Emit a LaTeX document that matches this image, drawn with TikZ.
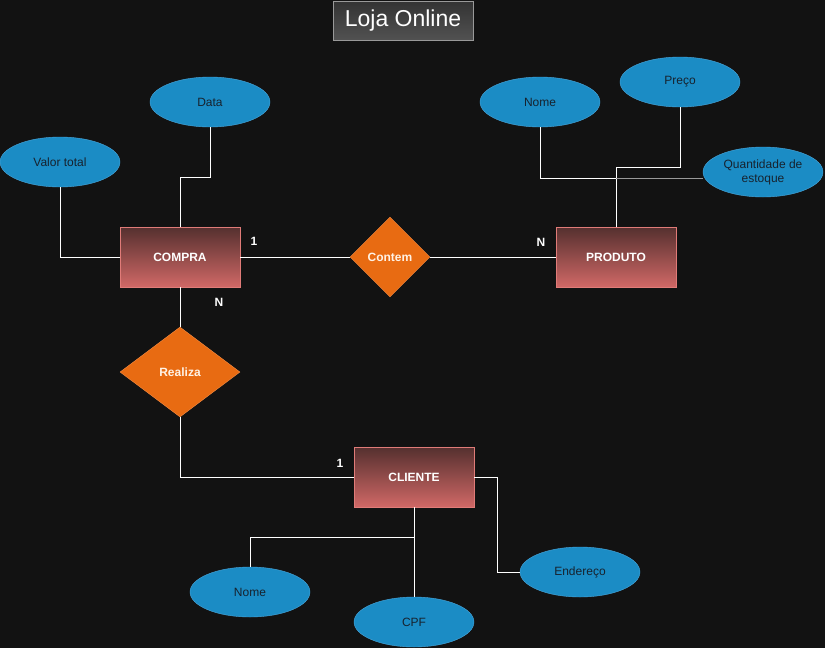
\documentclass[tikz,border=0pt]{standalone}
\usepackage{fontspec}
\setmainfont{Liberation Sans}
\usetikzlibrary{shapes.geometric}
\definecolor{bg}{HTML}{121212}
\definecolor{attrfill}{HTML}{1B8CC5}
\definecolor{attrline}{HTML}{4AA8DE}
\definecolor{attrtext}{HTML}{17222E}
\definecolor{enttop}{HTML}{55302F}
\definecolor{entbot}{HTML}{D06866}
\definecolor{entline}{HTML}{E07B78}
\definecolor{relfill}{HTML}{E86B12}
\definecolor{relline}{HTML}{F38B42}
\tikzset{
  attr/.style={ellipse,draw=attrline,fill=attrfill,text=attrtext,minimum width=120pt,minimum height=50pt,inner sep=0pt,font=\fontsize{12}{14}\selectfont,align=center},
  ent/.style={rectangle,draw=entline,top color=enttop,bottom color=entbot,text=white,minimum width=120pt,minimum height=60pt,inner sep=0pt,font=\fontsize{12}{14}\selectfont\bfseries},
  rel/.style={diamond,draw=relline,fill=relfill,text=white!90!orange,inner sep=0pt,font=\fontsize{12}{14}\selectfont\bfseries},
  card/.style={text=white,font=\fontsize{12}{14}\selectfont\bfseries},
  link/.style={draw=white,line width=1pt}
}
\begin{document}
\begin{tikzpicture}[x=1pt,y=-1pt]
  \fill[bg] (0,0) rectangle (825,648);
  \useasboundingbox (0,0) rectangle (825,648);
  \node[draw=gray!80,top color=black!80,bottom color=black!68,text=white,minimum width=140pt,minimum height=39pt,inner sep=0pt,font=\fontsize{23}{26}\selectfont] (titulo) at (403,20.5) {Loja Online};
  \node[ent] (compra) at (180,257) {COMPRA};
  \node[ent] (produto) at (616,257) {PRODUTO};
  \node[ent] (cliente) at (414,477) {CLIENTE};
  \node[rel,minimum width=80pt,minimum height=80pt] (contem) at (390,257) {Contem};
  \node[rel,minimum width=120pt,minimum height=90pt] (realiza) at (180,372) {Realiza};
  \node[attr] (valor) at (60,162) {Valor total};
  \node[attr] (data) at (210,102) {Data};
  \node[attr] (nomep) at (540,102) {Nome};
  \node[attr] (preco) at (680,82) {Preço};
  \node[attr] (qtd) at (763,172) {Quantidade de\\estoque};
  \node[attr] (nomec) at (250,592) {Nome};
  \node[attr] (cpf) at (414,622) {CPF};
  \node[attr] (endereco) at (580,572) {Endereço};
  \draw[link] (valor.south) |- (compra.west);
  \draw[link] (data.south) -- ++(0,50) -| (compra.north);
  \draw[link] (compra.east) -- (contem.west);
  \draw[link] (contem.east) -- (produto.west);
  \draw[link] (compra.south) -- (realiza.north);
  \draw[link] (realiza.south) |- (cliente.west);
  \draw[link] (nomep.south) -- ++(0,51) -| (produto.north);
  \draw[link] (preco.south) -- ++(0,60) -| (produto.north);
  \draw[link,draw=gray!80] ([yshift=-6pt]qtd.west) -- ++(-87,0);
  \draw[link] (cliente.south) -- (cpf.north);
  \draw[link] (cliente.south) -- ++(0,30) -| (nomec.north);
  \draw[link] (cliente.east) -- ++(23,0) |- (endereco.west);
  \node[card] (c1) at (254,241) {1};
  \node[card] (c2) at (219,302) {N};
  \node[card] (c3) at (541,242) {N};
  \node[card] (c4) at (340,463) {1};
\end{tikzpicture}
\end{document}
